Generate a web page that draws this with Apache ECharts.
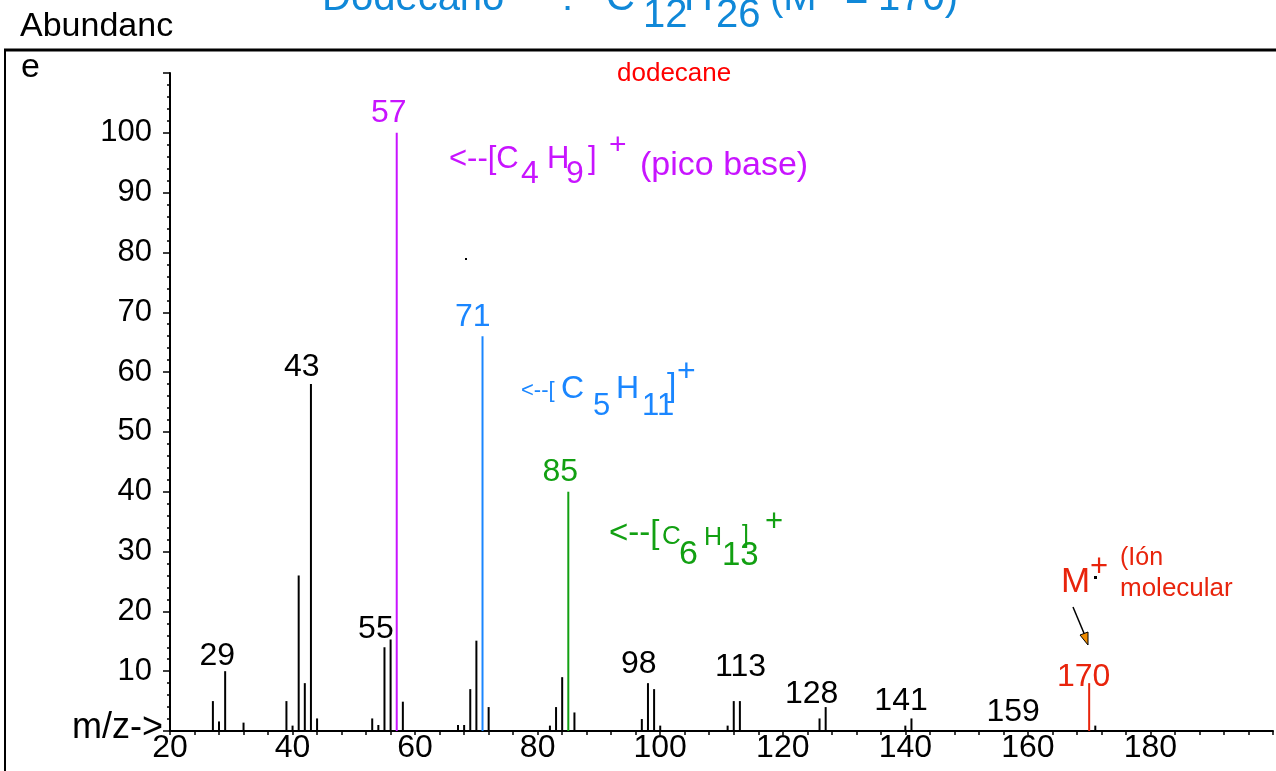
<!DOCTYPE html>
<html>
<head>
<meta charset="utf-8">
<script src="https://cdn.jsdelivr.net/npm/echarts@6/dist/echarts.min.js"></script>
<style>
  html, body { margin: 0; padding: 0; background: #fff; }
  #chart1 { width: 1276px; height: 771px; }
</style>
</head>
<body>
<div id="chart1"></div>
<script>
// espectro de masas del dodecano
var mz = [27, 28, 29, 32, 39, 40, 41, 42, 43, 44,
  53, 54, 55, 56, 57, 58, 67, 68, 69, 70,
  71, 72, 82, 83, 84, 85, 86, 97, 98, 99,
  100, 111, 112, 113, 126, 127, 140, 141, 170, 171];
var abundance = [5, 1.6, 10, 1.4, 5, 0.9, 26, 8, 58, 2.1,
  2.1, 1, 14, 15.3, 100, 4.9, 1, 1, 7, 15.1,
  66, 4, 0.9, 4, 9, 40, 3.1, 2, 8, 7,
  0.9, 0.9, 5, 5, 2.1, 4, 0.9, 2.1, 8, 0.9];

// etiquetas de los picos (posicion en m/z y abundancia)
var labelText = ['29', '43', '55', '57', '71', '85', '98', '113', '128', '141', '159', '170'];
var labelMz = [27.7, 41.5, 53.6, 55.7, 69.4, 83.7, 96.5, 113.1, 124.7, 139.3, 157.6, 169.1];
var labelAbund = [10.7, 59.0, 15.2, 101.4, 67.3, 41.5, 9.4, 8.9, 4.35, 3.2, 1.3, 7.2];

var xTicks = [20, 40, 60, 80, 100, 120, 140, 160, 180];
var yTicks = [10, 20, 30, 40, 50, 60, 70, 80, 90, 100];

var PURPLE = '#c814ff', BLUE = '#1a86ff', GREEN = '#12a012', RED = '#e8240c', TITLE = '#1088d8';
var peakColor = { 57: PURPLE, 71: BLUE, 85: GREEN, 170: RED };
var FONT = '"Liberation Sans", Arial, sans-serif';

var myChart = echarts.init(document.getElementById('chart1'));

// texto con la linea base en y
function t(str, x, base, size, color) {
  return {
    type: 'text', x: x, y: base - 0.85 * size, z: 10, silent: true,
    style: { text: str, fontSize: size, fontFamily: FONT, fill: color, textAlign: 'left', textVerticalAlign: 'top' }
  };
}

function make_chart() {
  var peaks = [];
  for (var i = 0; i < mz.length; i++) {
    peaks.push({ value: [mz[i], abundance[i]], itemStyle: { color: peakColor[mz[i]] || '#000' } });
  }
  var labels = [];
  for (var j = 0; j < labelText.length; j++) {
    var c = peakColor[+labelText[j]] || '#000';
    labels.push({ value: [labelMz[j], labelAbund[j]], label: { formatter: labelText[j], color: c } });
  }

  var graphics = [
    // marco
    { type: 'line', shape: { x1: 4, y1: 50, x2: 1276, y2: 50 }, style: { stroke: '#000', lineWidth: 3 } },
    { type: 'line', shape: { x1: 5, y1: 50, x2: 5, y2: 771 }, style: { stroke: '#000', lineWidth: 2 } },
    t('Abundanc', 20, 39, 34, '#000'),
    t('e', 21, 80, 34, '#000'),
    t('m/z->', 72, 741, 36, '#000'),
    // titulo (cortado arriba)
    t('Dodecano', 322, 13, 40, TITLE),
    t(':', 562, 13, 40, TITLE),
    t('C', 606, 13, 40, TITLE),
    t('12', 643, 30, 40, TITLE),
    t('H', 684, 13, 40, TITLE),
    t('26', 716, 30, 40, TITLE),
    t('(M', 770, 13, 40, TITLE),
    t('=', 845, 13, 40, TITLE),
    t('170)', 878, 13, 40, TITLE),
    t('dodecane', 617, 83, 26, '#ff0000'),
    // C4H9
    t('<--[C', 449, 170, 31, PURPLE),
    t('4', 521, 185, 32, PURPLE),
    t('H', 547, 170, 31, PURPLE),
    t('9', 566, 185, 32, PURPLE),
    t(']', 588, 170, 31, PURPLE),
    t('+', 609, 156, 30, PURPLE),
    t('(pico base)', 640, 178, 34, PURPLE),
    // C5H11
    t('<--[', 521, 399, 22, BLUE),
    t('C', 561, 400, 32, BLUE),
    t('5', 593, 417, 31, BLUE),
    t('H', 616, 400, 32, BLUE),
    t('11', 642, 417, 31, BLUE),
    t(']', 667, 399, 34, BLUE),
    t('+', 677, 383, 32, BLUE),
    // C6H13
    t('<--[', 609, 545, 33, GREEN),
    t('C', 662, 546, 26, GREEN),
    t('6', 679, 567, 34, GREEN),
    t('H', 704, 547, 25, GREEN),
    t('13', 722, 567, 33, GREEN),
    t(']', 742, 545, 25, GREEN),
    t('+', 765, 533, 31, GREEN),
    // ion molecular
    t('M', 1061, 595, 35, RED),
    t('+', 1090, 578, 31, RED),
    { type: 'rect', shape: { x: 1094, y: 576, width: 3, height: 3 }, style: { fill: '#000' } },
    t('(Ión', 1120, 567, 25, RED),
    t('molecular', 1120, 598, 26, RED),
    { type: 'line', shape: { x1: 1073, y1: 607, x2: 1086, y2: 638 }, style: { stroke: '#000', lineWidth: 1.5 } },
    { type: 'polygon', shape: { points: [[1088, 645], [1080, 635], [1088, 632]] }, style: { fill: '#f08c00', stroke: '#000', lineWidth: 1 } },
    { type: 'rect', shape: { x: 465, y: 258, width: 2, height: 2 }, style: { fill: '#000' } }
  ];

  var option = {
    animation: false,
    backgroundColor: '#fff',
    grid: { left: 170, right: 1, top: 73, bottom: 40, containLabel: false },
    xAxis: {
      type: 'value', min: 20, max: 200, interval: 20,
      axisLine: { lineStyle: { color: '#000', width: 2 } },
      axisTick: { length: 4, lineStyle: { color: '#000', width: 1.5 } },
      minorTick: { show: true, splitNumber: 5, length: 4, lineStyle: { color: '#000', width: 1.5 } },
      splitLine: { show: false },
      axisLabel: {
        margin: 1, fontSize: 32, fontFamily: FONT, color: '#000',
        formatter: function (v) { return xTicks.indexOf(v) >= 0 ? String(v) : ''; }
      }
    },
    yAxis: {
      type: 'value', min: 0, max: 110, interval: 10,
      axisLine: { show: true, lineStyle: { color: '#000', width: 2 } },
      axisTick: { show: true, length: 7, lineStyle: { color: '#000', width: 1.5 } },
      minorTick: { show: true, splitNumber: 5, length: 3, lineStyle: { color: '#000', width: 1.5 } },
      splitLine: { show: false },
      axisLabel: {
        margin: 18, fontSize: 31, fontFamily: FONT, color: '#000',
        formatter: function (v) { return yTicks.indexOf(v) >= 0 ? String(v) : ''; }
      }
    },
    series: [{
      name: 'dodecane',
      type: 'bar',
      barWidth: 2,
      data: peaks,
      silent: true
    }, {
      name: 'etiquetas',
      type: 'scatter',
      symbolSize: 0,
      data: labels,
      silent: true,
      itemStyle: { opacity: 1 },
      label: { show: true, position: 'top', distance: 0, offset: [0, 5], fontSize: 32, fontFamily: FONT, opacity: 1 }
    }],
    graphic: graphics
  };
  myChart.setOption(option);
}

make_chart();
</script>
</body>
</html>
